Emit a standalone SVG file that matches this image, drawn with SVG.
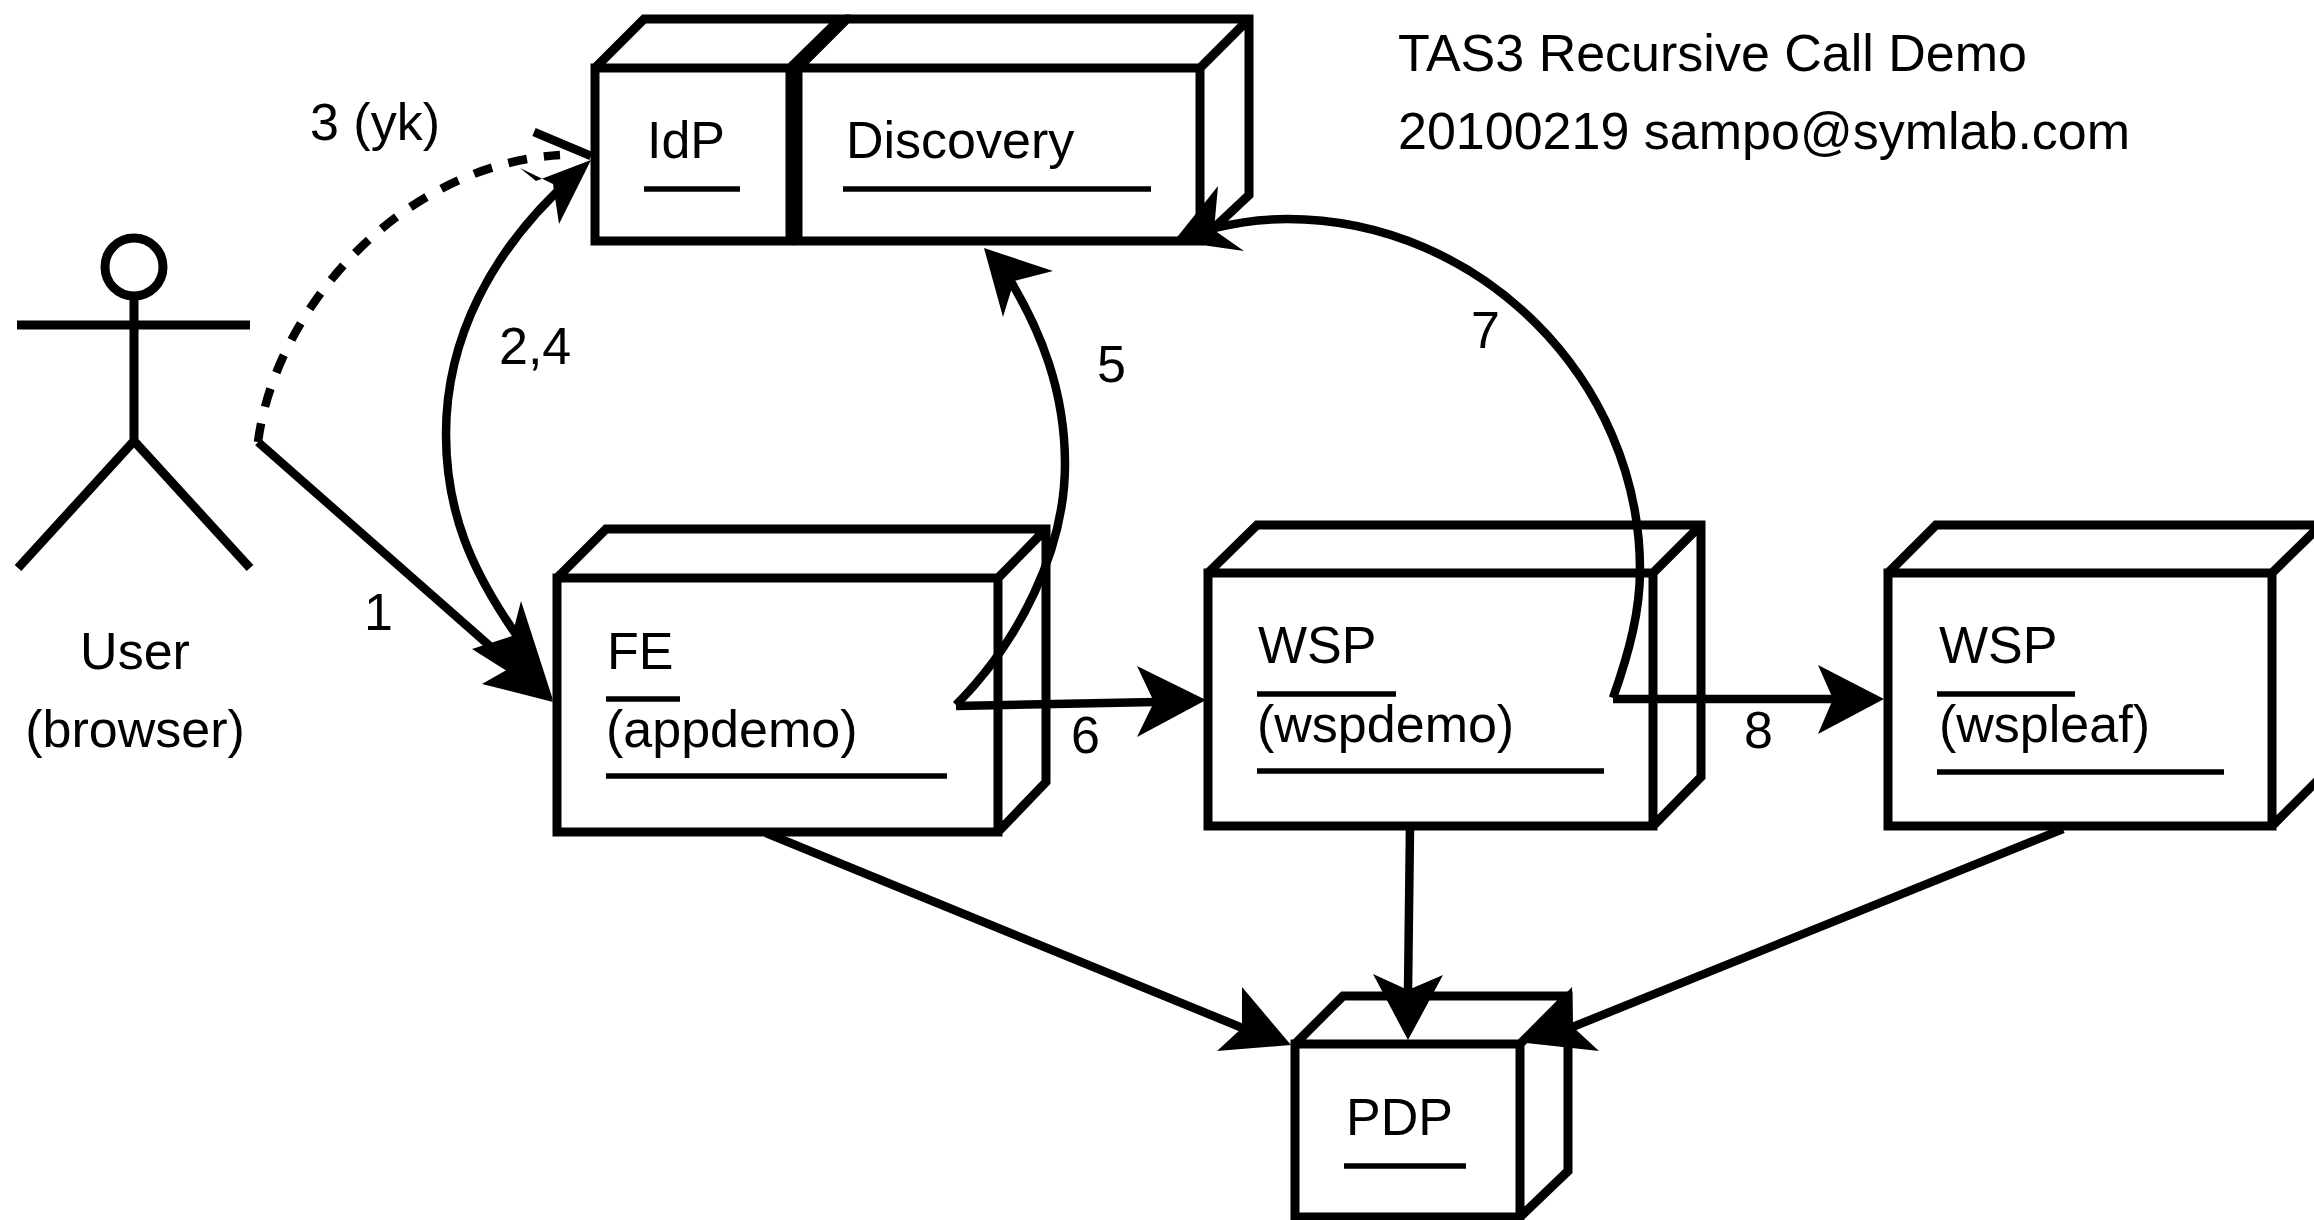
<svg xmlns="http://www.w3.org/2000/svg" width="2314" height="1220" viewBox="0 0 2314 1220">
<style>
.s{fill:none;stroke:#000;stroke-width:9;stroke-miterlimit:10}
.u{fill:none;stroke:#000;stroke-width:5.5}
.h{fill:#000;stroke:none}
.c{fill:none;stroke:#000;stroke-width:8.5}
.d{stroke-dasharray:19 17}
text{font-family:"Liberation Sans",Arial,sans-serif;font-size:52px;fill:#000}
.m{text-anchor:middle}
</style>
<rect width="2314" height="1220" fill="#fff"/>
<g id="actor-user">
<ellipse class="s" cx="134" cy="267" rx="29" ry="29"/>
<path class="s" d="M134 296V441M17 325H250M18 568L134 441L250 568"/>
<text class="m" x="135" y="669">User</text>
<text class="m" x="135" y="747">(browser)</text>
</g>
<g id="node-idp">
<path class="s" d="M595 68H790V241H595ZM595 68L644 19H840L790 68"/>
<path class="u" d="M644 189H740"/>
<text x="647" y="158">IdP</text>
</g>
<g id="node-discovery">
<path class="s" d="M798 68H1200V241H798ZM798 68L847 19H1249V195L1200 241M1200 68L1249 19"/>
<path class="u" d="M843 189H1151"/>
<text x="846" y="158">Discovery</text>
</g>
<g id="node-fe">
<path class="s" d="M557 578H998V832H557ZM557 578L606 529H1046V782L998 832M998 578L1046 529"/>
<path class="u" d="M606 699H680M606 776H947"/>
<text x="607" y="669">FE</text>
<text x="606" y="747">(appdemo)</text>
</g>
<g id="node-wspdemo">
<path class="s" d="M1208 573H1653V826H1208ZM1208 573L1257 525H1701V777L1653 826M1653 573L1701 525"/>
<path class="u" d="M1257 694H1396M1257 771H1604"/>
<text x="1258" y="663">WSP</text>
<text x="1257" y="742">(wspdemo)</text>
</g>
<g id="node-wspleaf">
<path class="s" d="M1888 573H2272V826H1888ZM1888 573L1936 525H2321V777L2272 826M2272 573L2321 525"/>
<path class="u" d="M1937 694H2075M1937 772H2224"/>
<text x="1939" y="663">WSP</text>
<text x="1939" y="742">(wspleaf)</text>
</g>
<g id="node-pdp">
<path class="s" d="M1295 1044H1520V1217H1295ZM1295 1044L1343 996H1568V1171L1520 1217M1520 1044L1568 996"/>
<path class="u" d="M1344 1166H1466"/>
<text x="1346" y="1135">PDP</text>
</g>
<g id="connectors">
<path class="c" d="M258 442L500 655"/>
<polygon class="h" points="553,702 482,684 510,668 478,650 528,650"/>
<path class="c" d="M520 640C470 570 446 510 446 434C446 340 490 250 575 175"/>
<polygon class="h" points="553,700 472,649 512,636 521,601"/>
<path class="c" d="M534 132L591 156"/>
<polygon class="h" points="591,160 559,224 553,184 520,168 536,181"/>
<path class="c d" d="M258 442C275 310 400 165 560 155"/>
<path class="c" d="M956 705C1020 640 1065 550 1065 464C1065 390 1040 330 1010 280"/>
<polygon class="h" points="984,248 1053,271 1014,281 1003,317"/>
<path class="c" d="M956 706L1156 702"/>
<polygon class="h" points="1206,700 1137,666 1154,702 1137,737"/>
<path class="c" d="M1613 698C1630 650 1640 610 1640 570C1640 380 1480 219 1287 219C1260 219 1235 223 1215 228"/>
<polygon class="h" points="1174,241 1218,186 1214,230 1244,251"/>
<path class="c" d="M1613 699H1835"/>
<polygon class="h" points="1884,699 1818,665 1833,699 1818,734"/>
<path class="c" d="M766 833L1245 1029"/>
<polygon class="h" points="1291,1045 1242,987 1242,1028 1217,1051"/>
<path class="c" d="M1410 826L1408 992"/>
<polygon class="h" points="1408,1040 1373,974 1408,990 1443,975"/>
<path class="c" d="M2063 829L1570 1028"/>
<polygon class="h" points="1518,1042 1572,987 1573,1027 1599,1051"/>
</g>
<g id="labels">
<text x="310" y="140">3 (yk)</text>
<text x="499" y="364">2,4</text>
<text x="364" y="630">1</text>
<text x="1097" y="382">5</text>
<text x="1471" y="348">7</text>
<text x="1071" y="753">6</text>
<text x="1744" y="748">8</text>
<text x="1398" y="71">TAS3 Recursive Call Demo</text>
<text x="1398" y="149">20100219 sampo@symlab.com</text>
</g>
</svg>
